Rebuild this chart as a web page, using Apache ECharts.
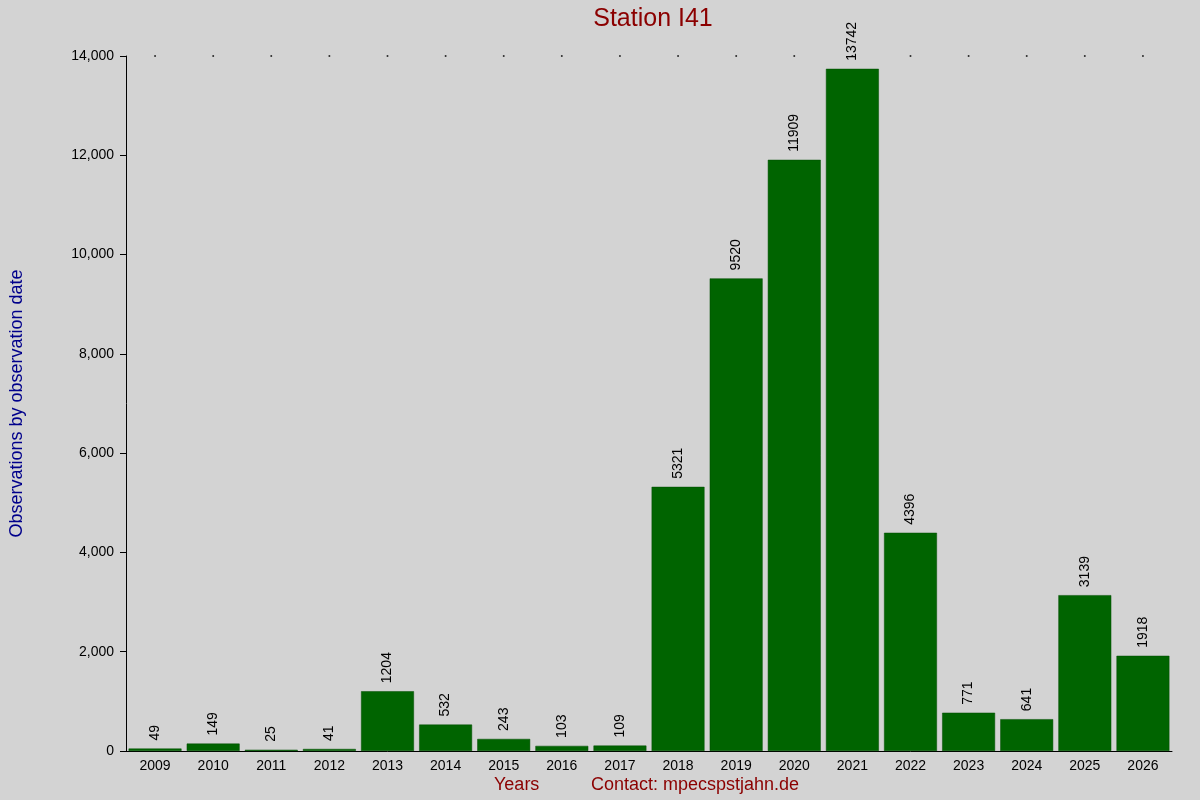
<!DOCTYPE html>
<html><head><meta charset="utf-8">
<script src="https://cdn.jsdelivr.net/npm/echarts@6/dist/echarts.min.js"></script>
<style>html,body{margin:0;background:#d3d3d3}#c{width:1200px;height:800px}</style>
</head><body><div id="c"></div>
<script>
const years=['2009','2010','2011','2012','2013','2014','2015','2016','2017','2018','2019','2020','2021','2022','2023','2024','2025','2026'];
const counts=[49,149,25,41,1204,532,243,103,109,5321,9520,11909,13742,4396,771,641,3139,1918];
const yTop=14000;
const chart=echarts.init(document.getElementById('c'));
chart.setOption({
  backgroundColor:'#d3d3d3',
  animation:false,
  textStyle:{fontFamily:'Liberation Sans, Arial, sans-serif'},
  title:{text:'Station I41',left:648,top:2,textAlign:'center',textStyle:{color:'#8b0000',fontSize:25,fontWeight:'normal'}},
  grid:{left:126,right:28,top:56,bottom:49},
  graphic:[
    {type:'text',left:494,top:776,style:{text:'Years',fill:'#8b0000',font:'18px Liberation Sans, Arial'}},
    {type:'text',left:591,top:776,style:{text:'Contact: mpecspstjahn.de',fill:'#8b0000',font:'18px Liberation Sans, Arial'}}
  ],
  xAxis:{type:'category',data:years,axisLine:{lineStyle:{color:'#000'}},axisTick:{show:false},
    axisLabel:{color:'#000',fontSize:14,margin:8}},
  yAxis:{type:'value',min:0,max:yTop,interval:2000,name:'Observations by observation date',nameLocation:'middle',nameGap:100,
    nameTextStyle:{color:'#00008b',fontSize:18},
    axisLine:{show:true,lineStyle:{color:'#000'}},axisTick:{show:true,length:6,lineStyle:{color:'#000'}},
    splitLine:{show:false},axisLabel:{color:'#000',fontSize:14,margin:12}},
  series:[
    {type:'bar',data:counts,barCategoryGap:'9%',itemStyle:{color:'#006400',borderColor:'#004d00',borderWidth:0.5},
     label:{show:true,position:'top',rotate:90,align:'left',verticalAlign:'middle',distance:8,color:'#000',fontSize:14}},
    {type:'scatter',data:years.map(()=>yTop),symbol:'circle',symbolSize:2,itemStyle:{color:'#000'},silent:true}
  ]
});
</script></body></html>
